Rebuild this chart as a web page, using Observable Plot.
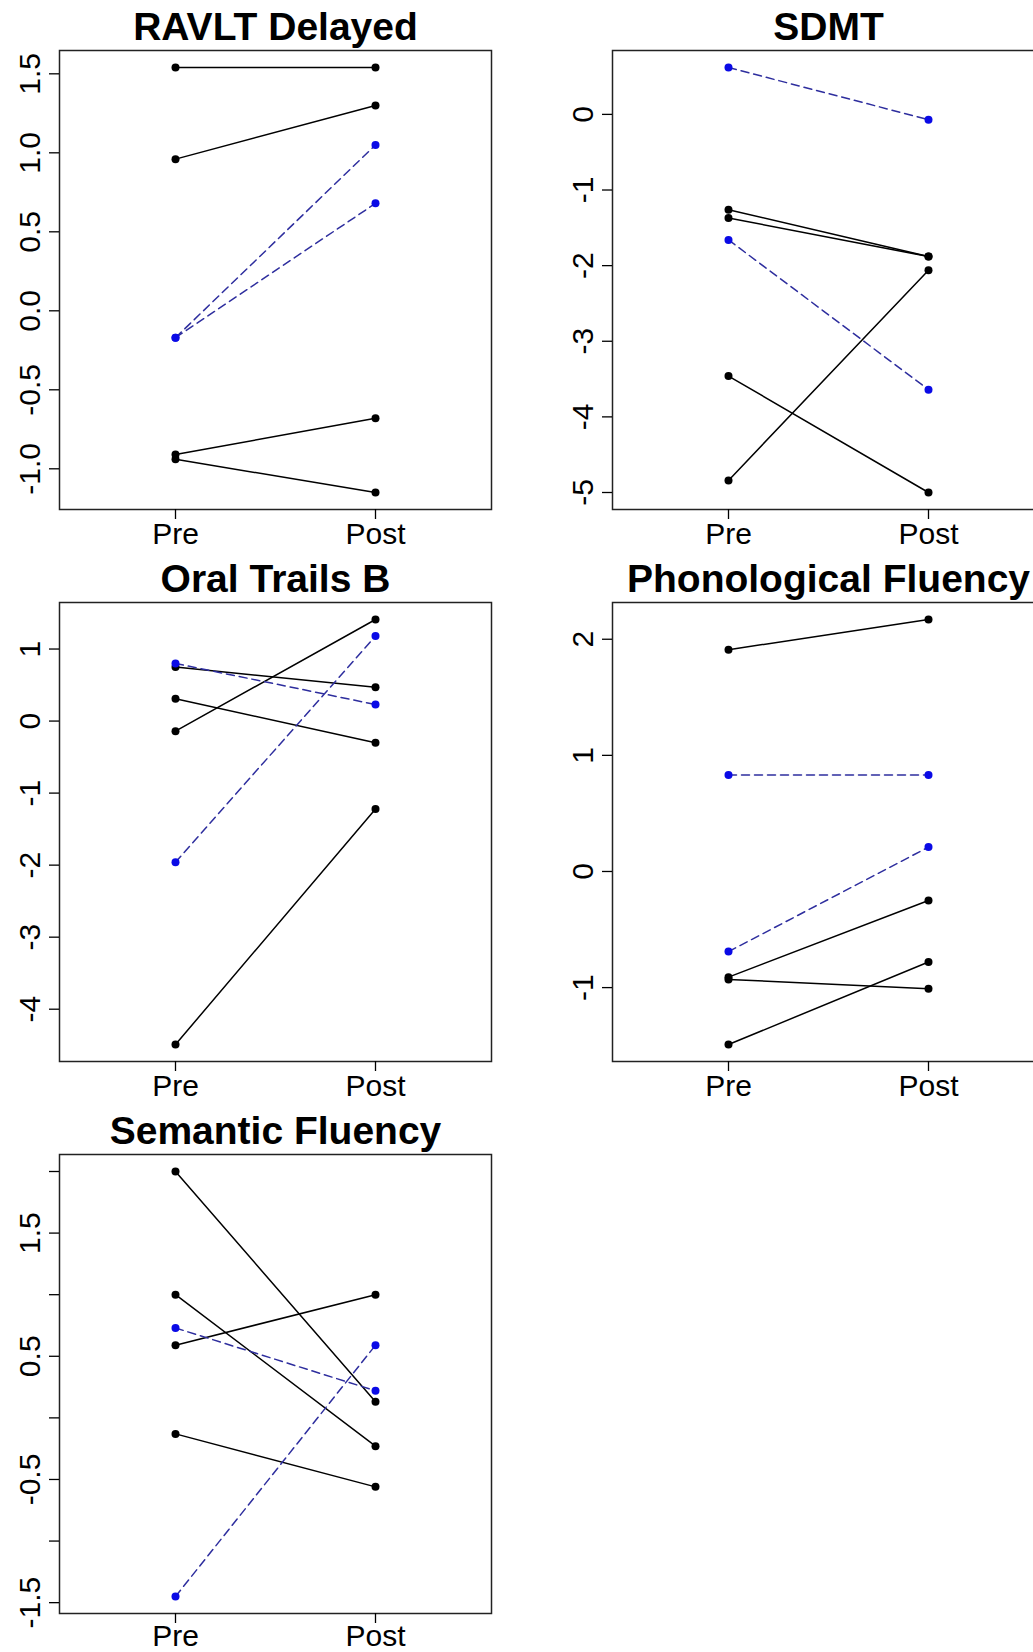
<!DOCTYPE html>
<html><head><meta charset="utf-8">
<script src="https://cdn.jsdelivr.net/npm/d3@7"></script>
<script src="https://cdn.jsdelivr.net/npm/@observablehq/plot@0.6"></script>
<style>
html,body{margin:0;padding:0;background:#fff;overflow:hidden;}
#chart{position:relative;width:1033px;height:1652px;overflow:hidden;background:#fff;}
.panel{position:absolute;}
.panel svg{overflow:visible;max-width:none !important;}
</style></head><body><div id="chart"></div>
<script>
// ---- data ----
const timepoints = ["Pre", "Post"];
const titles = ["RAVLT Delayed", "SDMT", "Oral Trails B", "Phonological Fluency", "Semantic Fluency"];

const ravltPre   = [1.54, 0.96, -0.17, -0.17, -0.91, -0.94];
const ravltPost  = [1.54, 1.30, 1.05, 0.68, -0.68, -1.15];
const ravltGroup = ["A", "A", "B", "B", "A", "A"];
const ravltTicks = [-1.0, -0.5, 0.0, 0.5, 1.0, 1.5];
const ravltLabels = [-1.0, -0.5, 0.0, 0.5, 1.0, 1.5];

const sdmtPre   = [0.62, -1.26, -1.37, -1.66, -3.46, -4.84];
const sdmtPost  = [-0.07, -1.88, -1.88, -3.64, -5.00, -2.06];
const sdmtGroup = ["B", "A", "A", "B", "A", "A"];
const sdmtTicks = [-5, -4, -3, -2, -1, 0];
const sdmtLabels = [-5, -4, -3, -2, -1, 0];

const oralPre   = [0.80, 0.75, 0.31, -0.14, -1.96, -4.49];
const oralPost  = [0.23, 0.47, -0.30, 1.41, 1.18, -1.22];
const oralGroup = ["B", "A", "A", "A", "B", "A"];
const oralTicks = [-4, -3, -2, -1, 0, 1];
const oralLabels = [-4, -3, -2, -1, 0, 1];

const phonPre   = [1.91, 0.83, -0.69, -0.91, -0.93, -1.49];
const phonPost  = [2.17, 0.83, 0.21, -0.25, -1.01, -0.78];
const phonGroup = ["A", "B", "B", "A", "A", "A"];
const phonTicks = [-1, 0, 1, 2];
const phonLabels = [-1, 0, 1, 2];

const semPre   = [2.00, 1.00, 0.73, 0.59, -0.13, -1.45];
const semPost  = [0.13, -0.23, 0.22, 1.00, -0.56, 0.59];
const semGroup = ["A", "A", "B", "A", "A", "B"];
const semTicks = [-1.5, -1.0, -0.5, 0.0, 0.5, 1.0, 1.5, 2.0];
const semLabels = [-1.5, -0.5, 0.5, 1.5];

// ---- layout ----
const ML = 59, MR = 3, MT = 50, MB = 52, BOX_W = 432, BOX_H = 459;
const colLeft = [0, 553];
const rowTop = [0, 552, 1104];

const panels = [
  {title: titles[0], pre: ravltPre, post: ravltPost, group: ravltGroup, ticks: ravltTicks, labels: ravltLabels, dec: 1, col: 0, row: 0},
  {title: titles[1], pre: sdmtPre, post: sdmtPost, group: sdmtGroup, ticks: sdmtTicks, labels: sdmtLabels, dec: 0, col: 1, row: 0},
  {title: titles[2], pre: oralPre, post: oralPost, group: oralGroup, ticks: oralTicks, labels: oralLabels, dec: 0, col: 0, row: 1},
  {title: titles[3], pre: phonPre, post: phonPost, group: phonGroup, ticks: phonTicks, labels: phonLabels, dec: 0, col: 1, row: 1},
  {title: titles[4], pre: semPre, post: semPost, group: semGroup, ticks: semTicks, labels: semLabels, dec: 1, col: 0, row: 2}
];

const chart = document.getElementById("chart");

for (const p of panels) {
  const rows = [];
  p.pre.forEach((v, i) => {
    rows.push({id: i, time: timepoints[0], value: v, group: p.group[i]});
    rows.push({id: i, time: timepoints[1], value: p.post[i], group: p.group[i]});
  });
  const all = p.pre.concat(p.post);
  const lo = d3.min(all), hi = d3.max(all), span = hi - lo;
  const domain = [lo - 0.04 * span, hi + 0.04 * span];
  const fmt = d => p.labels.some(l => Math.abs(l - d) < 1e-9) ? d.toFixed(p.dec) : "";
  const W = ML + BOX_W + MR, H = MT + BOX_H + MB;

  const svg = Plot.plot({
    width: W,
    height: H,
    marginLeft: ML, marginRight: MR, marginTop: MT, marginBottom: MB,
    style: {fontFamily: "'Liberation Sans', Arial, sans-serif", fontSize: "30px", background: "transparent", overflow: "visible", color: "#000"},
    x: {type: "point", domain: timepoints, padding: 0.58, label: null},
    y: {domain, label: null},
    marks: [
      Plot.line(rows.filter(d => d.group === "A"), {x: "time", y: "value", z: "id", stroke: "#000", strokeWidth: 1.5}),
      Plot.line(rows.filter(d => d.group === "B"), {x: "time", y: "value", z: "id", stroke: "#2e2e9e", strokeWidth: 1.5, strokeDasharray: "8,5"}),
      Plot.dot(rows.filter(d => d.group === "A"), {x: "time", y: "value", r: 4, fill: "#000", stroke: "none"}),
      Plot.dot(rows.filter(d => d.group === "B"), {x: "time", y: "value", r: 4, fill: "#0a0ae6", stroke: "none"}),
      Plot.frame({stroke: "#222", strokeWidth: 1.5}),
      Plot.axisY({ticks: p.ticks, tickFormat: fmt, tickRotate: -90, tickSize: 10, tickPadding: 10, fontSize: 30, strokeWidth: 1.3, label: null}),
      Plot.axisX({tickSize: 10, tickPadding: p.row === 2 ? 1 : 3, fontSize: 30, strokeWidth: 1.3, label: null}),
      Plot.text([p.title], {text: d => d, frameAnchor: "top", dy: -11, lineAnchor: "bottom", fontSize: 39, fontWeight: "bold", fill: "#000"})
    ]
  });
  svg.style.width = W + "px";
  svg.style.height = H + "px";
  const div = document.createElement("div");
  div.className = "panel";
  div.style.left = colLeft[p.col] + "px";
  div.style.top = rowTop[p.row] + "px";
  div.style.width = W + "px";
  div.style.height = H + "px";
  div.appendChild(svg);
  chart.appendChild(div);
}
</script></body></html>
